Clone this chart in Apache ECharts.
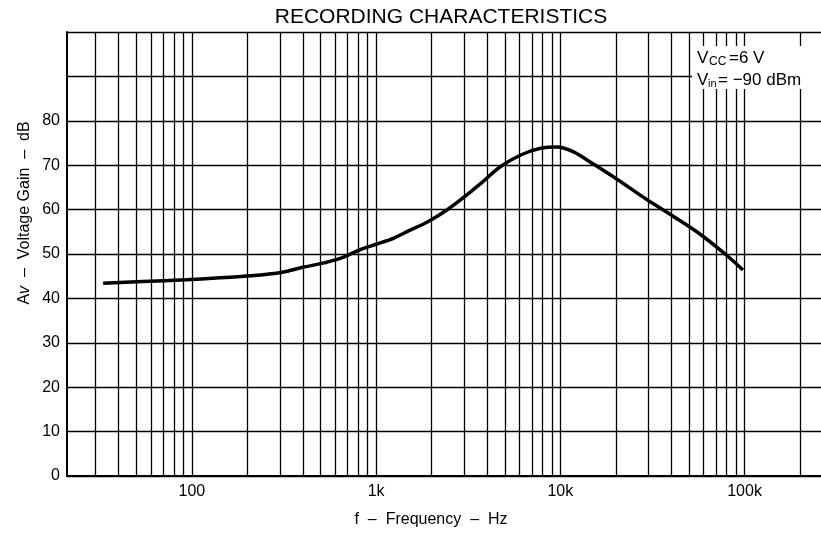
<!DOCTYPE html>
<html><head><meta charset="utf-8">
<script src="https://cdn.jsdelivr.net/npm/echarts@6/dist/echarts.min.js"></script>
<style>html,body{margin:0;padding:0;background:#fff}#c{width:821px;height:534px}</style>
</head><body><div id="c"></div>
<script>
// Data
const frequencyHz = [33, 54, 93, 136, 210, 310, 400, 520, 640, 820, 1000, 1250, 1500, 1900, 2400, 3000, 3800, 4700, 6100, 7800, 9600, 11800, 15200, 20700, 29600, 41300, 57700, 80500, 98000];
const gainDb = [43.4, 43.8, 44.2, 44.6, 45.1, 45.9, 47.0, 48.0, 49.0, 51.0, 52.2, 53.6, 55.2, 57.2, 59.8, 62.8, 66.3, 69.6, 72.3, 73.8, 74.1, 73.0, 70.2, 66.6, 62.2, 58.4, 54.4, 49.6, 46.4];

// Log-paper grid lines on the frequency axis
const xGridValues = [30, 40, 50, 60, 70, 80, 90, 100, 200, 300, 400, 500, 600, 700, 800, 900,
  1000, 2000, 3000, 4000, 5000, 6000, 7000, 8000, 9000,
  10000, 20000, 30000, 40000, 50000, 60000, 70000, 80000, 90000,
  100000, 200000];
const xLabelValues = [100, 1000, 10000, 100000];
const xLabelTexts = ['100', '1k', '10k', '100k'];
const yMaxLabelled = 80;

const FONT = "'Liberation Sans', Arial, Helvetica, sans-serif";
const chart = echarts.init(document.getElementById('c'), null, {renderer: 'canvas'});

const option = {
  animation: false,
  backgroundColor: '#fff',
  grid: {left: 67, right: 0, top: 32, bottom: 58, containLabel: false},
  xAxis: {
    type: 'log', logBase: 10, min: 21, max: 260000,
    axisLine: {show: true, lineStyle: {color: '#000', width: 2}},
    axisTick: {show: false, customValues: xGridValues},
    axisLabel: {
      customValues: xLabelValues,
      margin: 8, color: '#000', fontSize: 16, fontFamily: FONT,
      formatter: function (v) { const i = xLabelValues.indexOf(Math.round(v)); return i >= 0 ? xLabelTexts[i] : ''; }
    },
    splitLine: {show: true, lineStyle: {color: '#000', width: 1.3}},
    minorTick: {show: false}, minorSplitLine: {show: false}
  },
  yAxis: {
    type: 'value', min: 0, max: 100, interval: 10,
    axisLine: {show: true, lineStyle: {color: '#000', width: 2}},
    axisTick: {show: false},
    axisLabel: {
      margin: 7, color: '#000', fontSize: 16, fontFamily: FONT,
      formatter: function (v) { return v <= yMaxLabelled ? String(v) : ''; }
    },
    splitLine: {show: true, lineStyle: {color: '#000', width: 1.3}}
  },
  series: [{
    type: 'line',
    data: frequencyHz.map((f, i) => [f, gainDb[i]]),
    smooth: 0.3, showSymbol: false, symbol: 'none',
    lineStyle: {color: '#000', width: 3.5}, z: 5
  }],
  graphic: [
    {type: 'text', x: 441, y: 17, z: 50, style: {text: 'RECORDING CHARACTERISTICS', align: 'center', verticalAlign: 'middle', fontSize: 21, fontFamily: FONT, fill: '#000'}},
    {type: 'text', x: 431, y: 520, z: 50, style: {text: 'f  –  Frequency  –  Hz', align: 'center', verticalAlign: 'middle', fontSize: 16, fontFamily: FONT, fill: '#000'}},
    {type: 'text', x: 25, y: 213, rotation: Math.PI / 2, z: 50, style: {
      text: 'A{i|v}  –  Voltage Gain  –  dB', align: 'center', verticalAlign: 'middle', fontSize: 16, fontFamily: FONT, fill: '#000',
      rich: {i: {fontStyle: 'italic', fontSize: 16, fontFamily: FONT, fill: '#000'}}}},
    {type: 'rect', z: 40, shape: {x: 692, y: 46, width: 140, height: 43}, style: {fill: '#fff'}},
    {type: 'text', x: 697, y: 58, z: 50, style: {text: 'V', verticalAlign: 'middle', fontSize: 17, fontFamily: FONT, fill: '#000'}},
    {type: 'text', x: 709, y: 62, z: 50, style: {text: 'CC', verticalAlign: 'middle', fontSize: 12, fontFamily: FONT, fill: '#000'}},
    {type: 'text', x: 729, y: 58, z: 50, style: {text: '=6 V', verticalAlign: 'middle', fontSize: 17, fontFamily: FONT, fill: '#000'}},
    {type: 'text', x: 697, y: 80, z: 50, style: {text: 'V', verticalAlign: 'middle', fontSize: 17, fontFamily: FONT, fill: '#000'}},
    {type: 'text', x: 708, y: 84, z: 50, style: {text: 'in', verticalAlign: 'middle', fontSize: 11, fontFamily: FONT, fill: '#000'}},
    {type: 'text', x: 718, y: 80, z: 50, style: {text: '= −90 dBm', verticalAlign: 'middle', fontSize: 17, fontFamily: FONT, fill: '#000'}}
  ]
};
chart.setOption(option);
</script>
</body></html>
